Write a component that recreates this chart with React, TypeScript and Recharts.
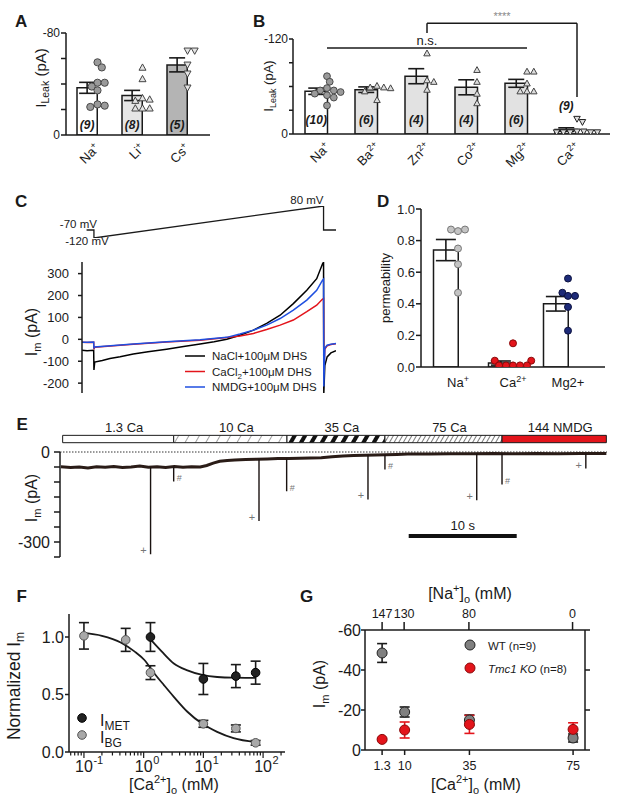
import React from 'react';
import {
  ComposedChart, Line, Bar, Scatter, XAxis, YAxis, ErrorBar, LabelList,
  ReferenceLine, ReferenceArea, Cell,
} from 'recharts';

const FONT = '"Liberation Sans", Arial, Helvetica, sans-serif';
const INK = '#1a1a1a';

// ---- A: leak current, monovalent cations (pA)
const aCats = ['Na', 'Li', 'Cs'];
const aSup = ['+', '+', '+'];
const aMean = [-37, -31, -55];
const aSem = [4.3, 4, 5.5];
const aN = [9, 8, 5];
const aNa = [-57, -53, -41, -41, -38, -35, -24, -22, -23];
const aLi = [-53, -44, -28, -27, -29, -21, -21, -21];
const aCs = [-66, -66, -55, -48, -37];

// ---- B: leak current, divalent cations (pA)
const bCats = ['Na', 'Ba', 'Zn', 'Co', 'Mg', 'Ca'];
const bSup = ['+', '2+', '2+', '2+', '2+', '2+'];
const bMean = [-54, -56, -73, -59, -64, -5.6];
const bSem = [4, 3.5, 9.5, 9.5, 5, 2.2];
const bN = [10, 6, 4, 4, 6, 9];
const bNa = [-73, -66, -58, -55, -55, -53, -51, -49, -46, -36];
const bBa = [-61, -59, -59, -58, -54, -43];
const bZn = [-102, -68, -66, -56];
const bCo = [-81, -66, -51, -39];
const bMg = [-79, -79, -64, -54, -54, -54];
const bCa = [-19, -15, -3, -3, -2, -2, -2, -2, -2];

// ---- C: ramp protocol (mV) and currents (pA) vs time (ms)
const cProto = [
  { t: 18, v: -70 }, { t: 47, v: -70, lab: '-70 mV' }, { t: 47, v: -120, lab: '-120 mV' },
  { t: 951, v: 80, lab: '80 mV' }, { t: 951, v: -70 }, { t: 1000, v: -70 },
];
const cNaCl: [number, number][] = [
  [0, -50], [20, -52], [46, -50], [47, -140], [50, -104], [80, -97], [110, -88], [150, -80],
  [202, -67], [260, -57], [333, -45], [400, -33], [465, -21], [520, -11], [570, 0], [622, 19],
  [675, 42], [727, 73], [780, 110], [832, 163], [885, 224], [924, 277], [947, 345], [951, 352],
  [952, -245], [956, -120], [965, -80], [980, -62], [1000, -52],
];
const cCaCl2: [number, number][] = [
  [0, -13], [20, -14], [46, -13], [47, -45], [50, -36], [100, -32], [202, -22], [333, -12],
  [465, -4], [570, 8], [622, 15], [675, 27], [727, 45], [780, 65], [832, 88], [885, 126],
  [924, 156], [947, 184], [951, 186], [952, -150], [956, -45], [965, -30], [980, -24], [1000, -20],
];
const cNmdg: [number, number][] = [
  [0, -13], [20, -13], [46, -12], [47, -42], [50, -35], [100, -31], [202, -21], [333, -11],
  [465, -2], [570, 9], [622, 24], [675, 42], [727, 65], [780, 95], [832, 133], [885, 179],
  [924, 224], [947, 270], [951, 275], [952, -215], [956, -40], [965, -27], [980, -22], [1000, -19],
];

// ---- D: permeability
const dLabels = [['Na', '+'], ['Ca', '2+'], ['Mg2+', '']];
const dMean = [0.74, 0.025, 0.4];
const dSem = [0.067, 0.013, 0.046];
const dNa = [0.87, 0.86, 0.87, 0.75, 0.65, 0.47];
const dCa = [0.15, 0.04, 0.04, 0.01, 0.01, 0.01, 0.01, 0.01];
const dMg = [0.56, 0.47, 0.45, 0.45, 0.38, 0.23];

// ---- E: current trace (s, pA)
const eBase: [number, number][] = [
  [-0.1, -49], [0.8, -52], [1.6, -50], [2.4, -53], [3.2, -49], [4, -51], [4.8, -48], [5.6, -52],
  [6.4, -50], [7.2, -47], [8, -51], [8.8, -49], [9.6, -52], [10.4, -48], [11.2, -51], [12, -49],
  [12.8, -50], [13.4, -45], [14, -37], [14.6, -31], [15.3, -28], [16, -27], [17, -25], [18, -24],
  [19, -23], [20, -22], [21, -22], [22, -21], [23, -20], [24, -19], [25, -16], [26, -13],
  [27, -12], [28, -11], [29, -10], [30, -9], [31, -8], [32, -7], [34, -7], [36, -6], [38, -6],
  [40, -5], [42, -6], [44, -5], [46, -6], [48, -5], [50.4, -5],
];
const eSpikeT = [8.2, 10.34, 18.24, 20.8, 28.33, 29.9, 38.4, 40.74, 48.5];
const eSpikePeak = [-341, -98, -230, -131, -158, -58, -161, -108, -55];
const eSpikeMark = ['+', '#', '+', '#', '+', '#', '+', '#', '+'];
const eSolLabels = ['1.3 Ca', '10 Ca', '35 Ca', '75 Ca', '144 NMDG'];
const eSolEdges = [0.06, 10.34, 20.83, 29.9, 40.74, 50.4];
const eScaleBar = [32.1, 42.1];

// ---- F: normalized current vs [Ca2+]o
const fMetX = [1.3, 10, 35, 75];
const fMetY = [1.0, 0.635, 0.66, 0.69];
const fMetErr = [0.125, 0.135, 0.1, 0.1];
const fBgX = [0.1, 0.5, 1.3, 10, 35, 75];
const fBgY = [1.01, 0.975, 0.69, 0.245, 0.205, 0.08];
const fBgErr = [0.115, 0.1, 0.06, 0.03, 0.03, 0.02];
const fBgFitX = [0.1, 0.2, 0.42, 0.7, 1.03, 1.5, 2.2, 3.2, 5.4, 9.6, 17, 32, 75];
const fBgFitY = [1.035, 1.01, 0.95, 0.875, 0.8, 0.685, 0.58, 0.48, 0.35, 0.245, 0.175, 0.12, 0.085];
const fMetFitX = [1.3, 2.0, 3.2, 5.4, 9.6, 17, 32, 75];
const fMetFitY = [0.98, 0.875, 0.77, 0.71, 0.67, 0.652, 0.646, 0.645];

// ---- G: current vs [Ca2+]o / [Na+]o
const gCa = [1.3, 10, 35, 75];
const gNa = [147, 130, 80, 0];
const gWt = [-48.5, -19, -15, -6];
const gWtErr = [4.7, 2.5, 2.5, 2];
const gKo = [-5.3, -10, -12.8, -10.3];
const gKoErr = [0.5, 4, 4.5, 3.3];

// ---------- helpers
function swarm(vals: number[], pxPerUnit: number, r: number, minD: number): number[] {
  const out = new Array(vals.length).fill(0);
  const placed: { x: number; y: number }[] = [];
  const order = vals.map((_, i) => i).sort((a, b) => vals[a] - vals[b]);
  for (const i of order) {
    const y = vals[i] * pxPerUnit;
    for (let k = 0; k < 60; k++) {
      const x = k === 0 ? 0 : (k % 2 ? 1 : -1) * Math.ceil(k / 2) * r * 0.4;
      if (placed.every((p) => (p.x - x) ** 2 + (p.y - y) ** 2 >= minD * minD)) {
        out[i] = x;
        placed.push({ x, y });
        break;
      }
    }
  }
  return out;
}

function swarmPts(vals: number[], idx: number, pxPerUnit: number, r: number, band: number) {
  const off = swarm(vals, pxPerUnit, r, r * 1.75);
  return vals.map((v, i) => ({ x: idx + off[i] / band, y: v }));
}

const dot = (fill: string, stroke: string, r: number) => (p: any) =>
  <circle cx={p.cx} cy={p.cy} r={r} fill={fill} stroke={stroke} strokeWidth={1} />;

const nothing = () => <g />;

const tri = (fill: string, stroke: string, s: number, down: boolean) => (p: any) => {
  const h = s * 0.5;
  const pts = down
    ? `${p.cx - h},${p.cy - h * 0.8} ${p.cx + h},${p.cy - h * 0.8} ${p.cx},${p.cy + h}`
    : `${p.cx - h},${p.cy + h * 0.8} ${p.cx + h},${p.cy + h * 0.8} ${p.cx},${p.cy - h}`;
  return <polygon points={pts} fill={fill} stroke={stroke} strokeWidth={1} />;
};

const rotTick = (sups: string[], dx: number, dy: number) => (p: any) => (
  <g transform={`translate(${p.x + dx},${p.y + dy}) rotate(-45)`}>
    <text textAnchor="end" fontSize={13} fontFamily={FONT} fill={INK}>
      {p.payload.value}
      <tspan dy={-5} fontSize={9}>{sups[p.index]}</tspan>
    </text>
  </g>
);

const nLabel = (dyIn: number) => (p: any) => {
  const x = Number(p.x), y = Number(p.y), w = Number(p.width), h = Number(p.height);
  const top = Math.min(y, y + h), bot = Math.max(y, y + h);
  const ty = bot - top < 20 ? top - 20 : bot - dyIn;
  return (
    <text x={x + w / 2} y={ty} textAnchor="middle" fontSize={12} fontStyle="italic"
      fontWeight="bold" fontFamily={FONT} fill={INK}>({p.value})</text>
  );
};

const axisStyle = { stroke: INK, strokeWidth: 1.5 };
const tickStyle = (fs: number) => ({ fontSize: fs, fill: INK, fontFamily: FONT });

function DotBarPanel(props: any) {
  const { box, margin, yw, domain, reversed, ticks, fmt, fs, tsz, rows, fills, barSize, pad,
    xh, xTick, nDy, groups, cap, children } = props;
  const n = rows.length;
  return (
    <div style={{ position: 'absolute', left: box[0], top: box[1] }}>
      <ComposedChart width={box[2]} height={box[3]} data={rows} margin={margin}>
        <XAxis xAxisId="cat" dataKey="cat" type="category" padding={pad} tickLine={false}
          tickSize={0} tickMargin={0} height={xh} tick={xTick} axisLine={axisStyle} interval={0} />
        <XAxis xAxisId="num" dataKey="x" type="number" domain={[-0.5, n - 0.5]} padding={pad}
          hide allowDataOverflow />
        <YAxis width={yw} domain={domain} reversed={reversed} ticks={ticks} tickFormatter={fmt}
          interval={0} allowDataOverflow tickSize={tsz} tickMargin={1} axisLine={axisStyle}
          tickLine={axisStyle} tick={tickStyle(fs)} />
        <Bar xAxisId="cat" dataKey="mean" barSize={barSize} stroke={INK} strokeWidth={1.5}
          isAnimationActive={false}>
          {rows.map((_: any, i: number) => <Cell key={i} fill={fills[i]} />)}
          {nDy != null && <LabelList dataKey="n" content={nLabel(nDy)} />}
        </Bar>
        {groups.map((g: any, i: number) => (
          <Scatter key={i} xAxisId="num" data={g.pts} dataKey="y" shape={g.shape}
            isAnimationActive={false} />
        ))}
        <Bar xAxisId="cat" dataKey="mean" barSize={barSize} fill="none" stroke="none"
          isAnimationActive={false}>
          <ErrorBar dataKey="sem" width={cap} stroke={INK} strokeWidth={1.6} direction="y" />
        </Bar>
        {children}
      </ComposedChart>
    </div>
  );
}

function PanelA() {
  const rows = aCats.map((c, i) => ({ cat: c, mean: aMean[i], sem: aSem[i], n: aN[i] }));
  const px = 102 / 80, band = 45;
  const groups = [
    { pts: swarmPts(aNa, 0, px, 3.6, band), shape: dot('#9a9a9a', '#4a4a4a', 3.6) },
    { pts: swarmPts(aLi, 1, px, 3.6, band), shape: tri('#e4e4e4', '#444', 7, false) },
    { pts: swarmPts(aCs, 2, px, 3.6, band), shape: tri('#e4e4e4', '#444', 7, true) },
  ];
  return (
    <DotBarPanel box={[0, 0, 215, 195]} margin={{ top: 33, right: 5, bottom: 5, left: 0 }}
      yw={66} domain={[-80, 0]} reversed ticks={[-80, -60, -40, -20, 0]}
      fmt={(v: number) => (v === -80 || v === 0 ? String(v) : '')} fs={12} tsz={5}
      rows={rows} fills={['#ffffff', '#e6e6e6', '#b4b4b4']} barSize={31} cap={8}
      pad={{ left: 9, right: 0 }} xh={55} xTick={rotTick(aSup, 3, 14)} nDy={6} groups={groups} />
  );
}

function PanelB() {
  const rows = bCats.map((c, i) => ({ cat: c, mean: bMean[i], sem: bSem[i], n: bN[i] }));
  const px = 95 / 120, band = 50;
  const g = '#dcdcdc';
  const groups = [
    { pts: swarmPts(bNa, 0, px, 3.4, band), shape: dot('#9a9a9a', '#4a4a4a', 3.4) },
    { pts: swarmPts(bBa, 1, px, 3.4, band), shape: tri(g, '#444', 6.5, false) },
    { pts: swarmPts(bZn, 2, px, 3.4, band), shape: tri(g, '#444', 6.5, false) },
    { pts: swarmPts(bCo, 3, px, 3.4, band), shape: tri(g, '#444', 6.5, false) },
    { pts: swarmPts(bMg, 4, px, 3.4, band), shape: tri(g, '#444', 6.5, false) },
    { pts: swarmPts(bCa, 5, px, 3.4, band), shape: tri(g, '#222', 6.5, true) },
  ];
  const line = { stroke: INK, strokeWidth: 1.5, ifOverflow: 'visible' as const, xAxisId: 'cat' };
  return (
    <DotBarPanel box={[215, 0, 400, 195]} margin={{ top: 39, right: 5, bottom: 6, left: 0 }}
      yw={78} domain={[-120, 0]} reversed ticks={[-120, -90, -60, -30, 0]}
      fmt={(v: number) => (v === -120 || v === 0 ? String(v) : '')} fs={12} tsz={4}
      rows={rows} fills={['#ffffff', '#e2e2e2', '#e2e2e2', '#e2e2e2', '#e2e2e2', '#e2e2e2']}
      barSize={33} cap={8} pad={{ left: 9, right: 8 }} xh={55} xTick={rotTick(bSup, 4, 14)} nDy={10}
      groups={groups}>
      <ReferenceLine {...line} segment={[{ x: 'Na', y: -108.6 }, { x: 'Mg', y: -108.6 }]}
        label={{ value: 'n.s.', position: 'top', fontSize: 13, fill: INK, offset: 3 }} />
      <ReferenceLine {...line} segment={[{ x: 'Zn', y: -140 }, { x: 'Ca', y: -140 }]}
        label={{ value: '****', position: 'top', fontSize: 11, fill: '#888', offset: 3 }} />
      <ReferenceLine {...line} segment={[{ x: 'Zn', y: -140 }, { x: 'Zn', y: -127.6 }]} />
      <ReferenceLine {...line} segment={[{ x: 'Ca', y: -140 }, { x: 'Ca', y: -46.7 }]} />
    </DotBarPanel>
  );
}

const protoLabel = (p: any) => {
  if (!p.value) return null;
  const x = Number(p.x), y = Number(p.y);
  const common = { fontSize: 11.5, fontFamily: FONT, fill: INK };
  if (p.value === '-70 mV') return <text {...common} x={x + 3} y={y - 2} textAnchor="end">{p.value}</text>;
  if (p.value === '-120 mV') return <text {...common} x={x - 7} y={y + 7} textAnchor="middle">{p.value}</text>;
  return <text {...common} x={x} y={y - 2} textAnchor="end">{p.value}</text>;
};

const toTV = (a: [number, number][]) => a.map(([t, v]) => ({ t, v }));

function PanelC() {
  return (
    <>
      <div style={{ position: 'absolute', left: 0, top: 195 }}>
        <ComposedChart width={345} height={60} data={cProto} margin={{ top: 11, right: 9, bottom: 17, left: 82 }}>
          <XAxis dataKey="t" type="number" domain={[0, 1000]} hide allowDataOverflow />
          <YAxis domain={[-120, 80]} hide allowDataOverflow />
          <Line dataKey="v" stroke={INK} strokeWidth={1.3} dot={false} isAnimationActive={false}>
            <LabelList dataKey="lab" content={protoLabel} />
          </Line>
        </ComposedChart>
      </div>
      <div style={{ position: 'absolute', left: 0, top: 255 }}>
        <ComposedChart width={345} height={145} margin={{ top: 7, right: 9, bottom: 7, left: 0 }}>
          <XAxis dataKey="t" type="number" domain={[0, 1000]} hide allowDataOverflow />
          <YAxis width={82} domain={[-245, 353]} ticks={[-200, -100, 0, 100, 200, 300]} interval={0}
            allowDataOverflow tickSize={4} tickMargin={9} axisLine={axisStyle} tickLine={axisStyle}
            tick={tickStyle(13)} />
          <Line data={toTV(cNaCl)} dataKey="v" stroke="#000" strokeWidth={1.5} dot={false} isAnimationActive={false} />
          <Line data={toTV(cCaCl2)} dataKey="v" stroke="#e3141b" strokeWidth={1.5} dot={false} isAnimationActive={false} />
          <Line data={toTV(cNmdg)} dataKey="v" stroke="#1f4fe0" strokeWidth={1.5} dot={false} isAnimationActive={false} />
        </ComposedChart>
      </div>
    </>
  );
}

const dTick = (p: any) => {
  const [base, sup] = dLabels[p.index];
  return (
    <text x={p.x} y={p.y + 20} textAnchor="middle" fontSize={13} fontFamily={FONT} fill={INK}>
      {base}<tspan dy={-5} fontSize={9}>{sup}</tspan>
    </text>
  );
};

function PanelD() {
  const rows = dLabels.map((l, i) => ({ cat: l[0], mean: dMean[i], sem: dSem[i] }));
  const px = 158, band = 55;
  const groups = [
    { pts: swarmPts(dNa, 0, px, 3.5, band), shape: dot('#c4c4c4', '#777', 3.5) },
    { pts: swarmPts(dCa, 1, px, 3.5, band), shape: dot('#e3141b', '#8a0a0a', 3.5) },
    { pts: swarmPts(dMg, 2, px, 3.5, band), shape: dot('#1d2a78', '#0c1240', 3.5) },
  ];
  return (
    <DotBarPanel box={[370, 195, 240, 210]} margin={{ top: 14, right: 5, bottom: 8, left: 0 }}
      yw={51} domain={[0, 1]} reversed={false} ticks={[0, 0.2, 0.4, 0.6, 0.8, 1]}
      fmt={(v: number) => v.toFixed(1)} fs={13} tsz={5} rows={rows} cap={10}
      fills={['#ffffff', '#ffffff', '#ffffff']} barSize={37} pad={{ left: 9.5, right: 9.5 }}
      xh={30} xTick={dTick} nDy={null} groups={groups} />
  );
}

function PanelE() {
  const trace = toTV(eBase);
  const baseAt = (t: number) =>
    eBase.reduce((b, p) => (Math.abs(p[0] - t) < Math.abs(b[0] - t) ? p : b))[1];
  const spikeLine = eSpikeT.flatMap((t, i) => [
    { t, v: baseAt(t) }, { t, v: eSpikePeak[i] }, { t, v: null as number | null },
  ]);
  const spikes = eSpikeT.map((t, i) => ({ t, peak: eSpikePeak[i], mark: eSpikeMark[i] }));
  const fills = ['#ffffff', 'url(#h10)', 'url(#h35)', 'url(#h75)', '#e3141b'];
  const markShape = (p: any) =>
    p.payload.mark === '+'
      ? <text x={p.cx - 7} y={p.cy} textAnchor="middle" fontSize={11} fill="#777" fontFamily={FONT}>+</text>
      : <text x={p.cx + 3} y={p.cy} fontSize={9} fill="#777" fontFamily={FONT}>#</text>;
  return (
    <div style={{ position: 'absolute', left: 0, top: 420 }}>
      <ComposedChart width={617} height={140} margin={{ top: 32, right: 10, bottom: 3, left: 0 }}>
        <defs>
          <pattern id="h10" width="9" height="9" patternUnits="userSpaceOnUse" patternTransform="rotate(30)">
            <rect width="9" height="9" fill="#fff" />
            <line x1="0" y1="0" x2="0" y2="9" stroke="#444" strokeWidth="1" />
          </pattern>
          <pattern id="h35" width="9" height="9" patternUnits="userSpaceOnUse" patternTransform="rotate(30)">
            <rect width="9" height="9" fill="#fff" />
            <rect width="4" height="9" fill="#111" />
          </pattern>
          <pattern id="h75" width="4" height="4" patternUnits="userSpaceOnUse" patternTransform="rotate(30)">
            <rect width="4" height="4" fill="#fff" />
            <line x1="0" y1="0" x2="0" y2="4" stroke="#222" strokeWidth="1.2" />
          </pattern>
        </defs>
        <XAxis dataKey="t" type="number" domain={[-0.185, 50.46]} hide allowDataOverflow />
        <YAxis width={60} domain={[-350, 0]} ticks={[-350, -300, -250, -200, -150, -100, -50, 0]}
          interval={0} allowDataOverflow tickFormatter={(v: number) => (v === 0 || v === -300 ? String(v) : '')}
          tickSize={6} tickMargin={4} axisLine={axisStyle} tickLine={axisStyle} tick={tickStyle(16)} />
        <ReferenceLine y={0} stroke="#333" strokeWidth={1} strokeDasharray="1.5 1.5" />
        {eSolLabels.map((lab, i) => (
          <ReferenceArea key={lab} x1={eSolEdges[i]} x2={eSolEdges[i + 1]} y1={31} y2={55.5}
            ifOverflow="visible" fill={fills[i]} fillOpacity={1} stroke={INK} strokeWidth={1}
            label={{ value: lab, position: 'top', fontSize: 13, fill: INK, offset: 3, dx: 6 }} />
        ))}
        <Line data={trace} dataKey="v" stroke="#2a1c17" strokeWidth={3} dot={false} isAnimationActive={false} />
        <Line data={spikeLine} dataKey="v" stroke="#1a1210" strokeWidth={1.4} dot={false} isAnimationActive={false} />
        <Scatter data={spikes} dataKey="peak" shape={markShape} isAnimationActive={false} />
        <ReferenceLine segment={[{ x: eScaleBar[0], y: -280 }, { x: eScaleBar[1], y: -280 }]}
          stroke="#111" strokeWidth={4} ifOverflow="visible"
          label={{ value: '10 s', position: 'top', fontSize: 13, fill: INK, offset: 6 }} />
      </ComposedChart>
    </div>
  );
}

const fTicks: number[] = [];
[0.01, 0.1, 1, 10, 100].forEach((d) => {
  for (let k = 1; k <= 9; k++) {
    const v = +(d * k).toPrecision(3);
    if (v >= 0.06 && v <= 200) fTicks.push(v);
  }
});

const logTick = (p: any) => {
  const v = p.payload.value;
  const lg = Math.log10(v);
  const e = Math.round(lg);
  const major = Math.abs(lg - e) < 1e-6;
  return (
    <g>
      <line x1={p.x} x2={p.x} y1={p.y} y2={p.y + (major ? 6 : 3.5)} stroke={INK} strokeWidth={1.2} />
      {major && <text x={p.x} y={p.y + 20} textAnchor="middle" fontSize={16} fill={INK} fontFamily={FONT}>10</text>}
      {major && <text x={p.x + 9.5} y={p.y + 12} fontSize={11} fill={INK} fontFamily={FONT}>{e}</text>}
    </g>
  );
};

function PanelF() {
  const met = fMetX.map((x, i) => ({ x, y: fMetY[i], e: fMetErr[i] }));
  const bg = fBgX.map((x, i) => ({ x, y: fBgY[i], e: fBgErr[i] }));
  const bgFit = fBgFitX.map((x, i) => ({ x, y: fBgFitY[i] }));
  const metFit = fMetFitX.map((x, i) => ({ x, y: fMetFitY[i] }));
  return (
    <div style={{ position: 'absolute', left: 0, top: 600 }}>
      <ComposedChart width={300} height={200} margin={{ top: 14, right: 15, bottom: 18, left: 0 }}>
        <XAxis dataKey="x" type="number" scale="log" domain={[0.0562, 232.8]} allowDataOverflow
          ticks={fTicks} interval={0} tickLine={false} tickSize={0} tickMargin={0} height={30}
          tick={logTick} axisLine={axisStyle} />
        <YAxis width={69} domain={[0, 1.2]} ticks={[0, 0.5, 1]} interval={0} allowDataOverflow
          tickFormatter={(v: number) => v.toFixed(1)} tickSize={4} tickMargin={1}
          axisLine={axisStyle} tickLine={axisStyle} tick={tickStyle(16)} />
        <Line data={bgFit} dataKey="y" type="monotone" stroke={INK} strokeWidth={1.8} dot={false} isAnimationActive={false} />
        <Line data={metFit} dataKey="y" type="monotone" stroke={INK} strokeWidth={1.8} dot={false} isAnimationActive={false} />
        <Scatter data={bg} dataKey="y" shape={dot('#a8a8a8', '#555', 4.3)} isAnimationActive={false}>
          <ErrorBar dataKey="e" direction="y" width={5} stroke={INK} strokeWidth={1.6} />
        </Scatter>
        <Scatter data={met} dataKey="y" shape={dot('#222', '#000', 4.3)} isAnimationActive={false}>
          <ErrorBar dataKey="e" direction="y" width={5} stroke={INK} strokeWidth={1.6} />
        </Scatter>
      </ComposedChart>
    </div>
  );
}

function PanelG() {
  const wt = gCa.map((x, i) => ({ x, y: gWt[i], e: gWtErr[i] }));
  const ko = gCa.map((x, i) => ({ x, y: gKo[i], e: gKoErr[i] }));
  const wtNa = gNa.map((x, i) => ({ x, y: gWt[i] }));
  const yt = [-60, -40, -20, 0];
  return (
    <div style={{ position: 'absolute', left: 300, top: 585 }}>
      <ComposedChart width={317} height={215} margin={{ top: 15, right: 0, bottom: 20, left: 0 }}>
        <XAxis xAxisId="b" dataKey="x" type="number" domain={[-5.3, 79.6]} ticks={gCa} interval={0}
          allowDataOverflow tickSize={5} tickMargin={6} height={30} axisLine={axisStyle}
          tickLine={axisStyle} tick={tickStyle(12.5)} tickFormatter={(v: number) => String(v)} />
        <XAxis xAxisId="t" dataKey="x" orientation="top" type="number" domain={[-9.6, 160.2]} reversed
          ticks={gNa} interval={0} allowDataOverflow tickSize={8} tickMargin={4} height={30}
          axisLine={axisStyle} tickLine={axisStyle} tick={tickStyle(12.5)} />
        <YAxis yAxisId="l" width={65} domain={[-60, 0]} reversed ticks={yt} interval={0}
          allowDataOverflow tickSize={4} tickMargin={0} axisLine={axisStyle} tickLine={axisStyle}
          tick={tickStyle(16)} />
        <YAxis yAxisId="r" orientation="right" width={32} domain={[-60, 0]} reversed ticks={yt}
          interval={0} allowDataOverflow tickSize={5} tickFormatter={() => ''} axisLine={axisStyle}
          tickLine={axisStyle} />
        <Scatter xAxisId="t" yAxisId="r" data={wtNa} dataKey="y" shape={nothing} isAnimationActive={false} />
        <Scatter xAxisId="b" yAxisId="l" data={wt} dataKey="y" shape={dot('#808080', '#222', 5)} isAnimationActive={false}>
          <ErrorBar dataKey="e" direction="y" width={5} stroke={INK} strokeWidth={1.6} />
        </Scatter>
        <Scatter xAxisId="b" yAxisId="l" data={ko} dataKey="y" shape={dot('#e3141b', '#8a0a0a', 5)} isAnimationActive={false}>
          <ErrorBar dataKey="e" direction="y" width={5} stroke="#e3141b" strokeWidth={1.6} />
        </Scatter>
      </ComposedChart>
    </div>
  );
}

function Overlay() {
  const L = (s: string, x: number, y: number) => (
    <text x={x} y={y} fontSize={17} fontWeight="bold" fill={INK}>{s}</text>
  );
  const rot = (x: number, y: number) => `translate(${x},${y}) rotate(-90)`;
  return (
    <svg width={617} height={808} fontFamily={FONT}
      style={{ position: 'absolute', left: 0, top: 0, pointerEvents: 'none' }}>
      {L('A', 15, 26.5)}{L('B', 253, 26.5)}{L('C', 15, 206.5)}{L('D', 377, 206.5)}
      {L('E', 16.5, 430)}{L('F', 16.5, 601.5)}{L('G', 300, 601.5)}

      <text fontSize={15} fill={INK} textAnchor="middle" transform={rot(45.5, 78)}>
        I<tspan fontSize={10.5} dy={3.5}>Leak</tspan><tspan dy={-3.5}> (pA)</tspan>
      </text>
      <text fontSize={13} fill={INK} textAnchor="middle" transform={rot(272.5, 86)}>
        I<tspan fontSize={9} dy={3}>Leak</tspan><tspan dy={-3}> (pA)</tspan>
      </text>
      <text fontSize={16} fill={INK} textAnchor="middle" transform={rot(36.5, 332)}>
        I<tspan fontSize={11} dy={4}>m</tspan><tspan dy={-4}> (pA)</tspan>
      </text>
      <text fontSize={13} fill={INK} textAnchor="middle" transform={rot(390, 288)}>permeability</text>
      <text fontSize={16} fill={INK} textAnchor="middle" transform={rot(36.5, 498)}>
        I<tspan fontSize={11} dy={4}>m</tspan><tspan dy={-4}> (pA)</tspan>
      </text>
      <text fontSize={17.5} fill={INK} textAnchor="middle" transform={rot(20, 686)}>
        Normalized I<tspan fontSize={12} dy={4}>m</tspan>
      </text>
      <text fontSize={16} fill={INK} textAnchor="middle" transform={rot(324.5, 684)}>
        I<tspan fontSize={11} dy={4}>m</tspan><tspan dy={-4}> (pA)</tspan>
      </text>

      <text fontSize={16} fill={INK} textAnchor="middle" x={174} y={790}>
        [Ca<tspan fontSize={11} dy={-7}>2+</tspan><tspan dy={7}>]</tspan><tspan fontSize={11} dy={4}>o</tspan><tspan dy={-4}> (mM)</tspan>
      </text>
      <text fontSize={16} fill={INK} textAnchor="middle" x={476} y={790}>
        [Ca<tspan fontSize={11} dy={-7}>2+</tspan><tspan dy={7}>]</tspan><tspan fontSize={11} dy={4}>o</tspan><tspan dy={-4}> (mM)</tspan>
      </text>
      <text fontSize={16} fill={INK} textAnchor="middle" x={470} y={599}>
        [Na<tspan fontSize={11} dy={-7}>+</tspan><tspan dy={7}>]</tspan><tspan fontSize={11} dy={4}>o</tspan><tspan dy={-4}> (mM)</tspan>
      </text>

      {[['#000', 356], ['#e3141b', 371.5], ['#1f4fe0', 387]].map(([c, y]) => (
        <line key={String(y)} x1={185} x2={205} y1={Number(y)} y2={Number(y)} stroke={String(c)} strokeWidth={1.5} />
      ))}
      <text fontSize={11.5} fill={INK} x={212} y={360}>NaCl+100μM DHS</text>
      <text fontSize={11.5} fill={INK} x={212} y={375.5}>CaCl<tspan fontSize={8} dy={3}>2</tspan><tspan dy={-3}>+100μM DHS</tspan></text>
      <text fontSize={11.5} fill={INK} x={212} y={391}>NMDG+100μM DHS</text>

      <circle cx={82} cy={718} r={4.3} fill="#222" stroke="#000" />
      <circle cx={82} cy={735} r={4.3} fill="#a8a8a8" stroke="#555" />
      <text fontSize={16} fill={INK} x={100} y={726}>I<tspan fontSize={12} dy={4}>MET</tspan></text>
      <text fontSize={16} fill={INK} x={100} y={743}>I<tspan fontSize={12} dy={4}>BG</tspan></text>

      <circle cx={470} cy={645} r={5} fill="#808080" stroke="#222" />
      <circle cx={470} cy={668} r={5} fill="#e3141b" stroke="#8a0a0a" />
      <text fontSize={11.5} fill={INK} x={488} y={649.5}>WT (n=9)</text>
      <text fontSize={11.5} fill={INK} x={488} y={672.5}><tspan fontStyle="italic">Tmc1 KO</tspan> (n=8)</text>
    </svg>
  );
}

export default function App() {
  return (
    <div style={{ position: 'absolute', left: 0, top: 0, width: 617, height: 808, background: '#fff',
      overflow: 'hidden', fontFamily: FONT }}>
      <PanelA />
      <PanelB />
      <PanelC />
      <PanelD />
      <PanelE />
      <PanelF />
      <PanelG />
      <Overlay />
    </div>
  );
}
